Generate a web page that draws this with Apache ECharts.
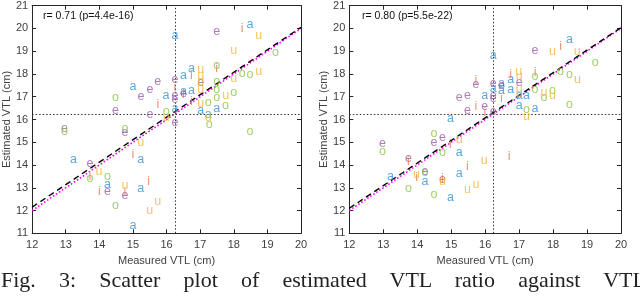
<!DOCTYPE html>
<html><head><meta charset="utf-8">
<script src="https://cdn.jsdelivr.net/npm/echarts@6/dist/echarts.min.js"></script>
<style>
html,body{margin:0;padding:0;width:640px;height:297px;overflow:hidden;background:#fff;}
#c{position:absolute;left:0;top:0;width:640px;height:297px;}
#cap{position:absolute;left:1px;top:269px;width:645px;font-family:"Liberation Serif","DejaVu Serif",serif;font-size:22px;line-height:22px;color:#222;text-align:justify;text-align-last:justify;white-space:nowrap;}
</style></head>
<body>
<div id="c"></div>
<div id="cap">Fig. 3: Scatter plot of estimated VTL ratio against VTL</div>
<script>
// ---- data ----
const vowels = ['a','e','i','o','u'];
const vowelColors = ['#2e91d6','#9a5aa8','#e5764f','#8cc443','#f4b53a'];
const xTicks = [12,13,14,15,16,17,18,19,20];
const yTicks = [11,12,13,14,15,16,17,18,19,20,21];
const annotations = ['r= 0.71 (p=4.4e-16)','r= 0.80 (p=5.5e-22)'];
const crossX = 16.25, crossY = 16.25;
const fitLeft = [[12,12.15],[20,20.05]];
const fitRight = [[12,12.1],[20,20.04]];
const identity = [[12,12],[20,20]];

const leftA = [[16.25,19.65],[18.48,20.13],[16.74,18.2],[16.5,17.87],[15.0,17.41],[15.98,17.03],[16.5,17.18],[16.74,17.23],[16.25,16.45],[17.02,16.35],[17.49,16.43],[17.24,16.17],[13.23,14.21],[15.23,14.21],[14.24,13.12],[15.23,12.94],[15.0,11.3]];
const leftE = [[17.49,19.82],[15.74,17.64],[16.25,17.7],[15.51,17.28],[15.24,16.97],[16.25,17.0],[16.25,16.82],[16.5,17.08],[17.02,17.58],[14.48,16.33],[15.51,16.17],[16.25,15.84],[12.96,15.58],[14.76,15.37],[13.72,14.0],[14.24,12.79],[14.76,12.62]];
const leftI = [[18.25,19.97],[17.49,18.2],[16.74,17.9],[16.25,17.35],[16.5,17.05],[16.74,16.74],[15.74,16.62],[15.0,14.41],[13.72,13.45],[15.47,13.24],[14.0,12.79],[14.76,12.75]];
const leftO = [[19.24,18.89],[17.49,18.33],[17.49,17.64],[18.25,17.98],[18.48,17.93],[17.49,17.29],[17.49,16.93],[18.0,17.13],[14.48,16.9],[15.99,16.29],[17.24,16.68],[17.75,16.55],[17.27,15.72],[12.96,15.42],[14.76,15.56],[18.48,15.42],[14.24,13.47],[13.72,13.35],[14.48,12.18]];
const leftU = [[18.74,19.65],[18.0,18.97],[18.74,18.05],[18.0,17.76],[17.02,18.15],[17.02,17.9],[17.02,17.62],[17.02,17.28],[17.76,17.03],[17.02,16.67],[15.99,16.06],[17.24,16.05],[15.23,14.93],[13.99,13.68],[14.76,13.06],[15.74,12.35],[15.5,11.96]];

const rightA = [[16.24,18.75],[18.48,19.47],[16.75,17.72],[16.48,17.54],[16.24,17.32],[16.48,17.25],[16.75,17.29],[15.99,16.99],[17.0,16.99],[17.22,16.99],[17.0,16.59],[17.47,16.45],[14.98,15.99],[15.24,14.49],[13.21,13.43],[14.23,13.24],[15.24,13.6],[14.98,12.51]];
const rightE = [[17.47,19.0],[15.73,17.5],[16.24,17.54],[16.48,17.44],[17.0,17.57],[15.48,17.03],[15.24,16.93],[16.24,17.03],[16.24,16.89],[15.99,16.52],[15.48,16.33],[16.24,16.31],[14.74,15.15],[12.98,14.9],[14.49,14.93],[13.74,14.26],[14.23,13.65],[14.74,13.32]];
const rightI = [[18.22,19.17],[16.75,17.95],[17.47,18.0],[15.73,17.68],[16.48,16.86],[15.73,16.52],[15.99,16.25],[14.98,14.85],[16.71,14.35],[15.48,13.91],[13.74,14.1],[13.98,13.4],[14.74,13.35]];
const rightO = [[19.24,18.44],[18.22,18.05],[18.48,17.93],[17.47,17.83],[17.47,17.29],[17.98,17.25],[17.73,16.93],[18.48,16.62],[17.22,16.38],[14.49,15.32],[14.74,14.5],[12.98,14.56],[14.23,13.62],[13.74,12.91],[14.49,12.66]];
const rightU = [[17.98,18.95],[18.71,18.92],[18.72,17.73],[16.99,18.05],[17.0,17.83],[17.0,17.32],[17.0,17.05],[17.73,17.13],[17.98,17.03],[17.22,16.09],[15.24,15.09],[15.97,14.16],[13.98,13.54],[14.74,13.25],[15.48,12.87],[15.73,13.1]];

const panels = [
  {pts:[leftA,leftE,leftI,leftO,leftU], fit: fitLeft},
  {pts:[rightA,rightE,rightI,rightO,rightU], fit: fitRight}
];

// ---- chart ----
const chart = echarts.init(document.getElementById('c'));
const FONT = '"Liberation Sans", Arial, sans-serif';
const grids = [
  {left:30, top:5.7, width:271, height:227.6},
  {left:349.3, top:5.7, width:271.7, height:227.6}
];
const xAxes = [], yAxes = [], series = [];
grids.forEach((g,gi)=>{
  const base = {
    min: xTicks[0], max: xTicks[xTicks.length-1], interval: 1,
    gridIndex: gi, splitLine:{show:false},
    axisLine:{show:true, onZero:false, lineStyle:{color:'#262626', width:1}},
    axisTick:{show:true, inside:true, length:4, lineStyle:{color:'#262626'}},
  };
  xAxes.push(Object.assign({}, base, {type:'value', position:'bottom',
    name:'Measured VTL (cm)', nameLocation:'middle', nameGap:19,
    nameTextStyle:{fontFamily:FONT, fontSize:11, color:'#404040'},
    axisLabel:{show:true, margin:6, fontFamily:FONT, fontSize:11, color:'#404040'}}));
  xAxes.push(Object.assign({}, base, {type:'value', position:'top', axisLabel:{show:false}}));
  const ybase = {
    min: yTicks[0], max: yTicks[yTicks.length-1], interval: 1,
    gridIndex: gi, splitLine:{show:false},
    axisLine:{show:true, onZero:false, lineStyle:{color:'#262626', width:1}},
    axisTick:{show:true, inside:true, length:4, lineStyle:{color:'#262626'}},
  };
  yAxes.push(Object.assign({}, ybase, {type:'value', position:'left',
    name:'Estimated VTL (cm)', nameLocation:'middle', nameGap:18,
    nameTextStyle:{fontFamily:FONT, fontSize:11, color:'#404040'},
    axisLabel:{show:true, margin:4, fontFamily:FONT, fontSize:11, color:'#404040'}}));
  yAxes.push(Object.assign({}, ybase, {type:'value', position:'right', axisLabel:{show:false}}));
});

panels.forEach((p,pi)=>{
  const xi = pi*2, yi = pi*2;
  // crosshair
  series.push({type:'line', xAxisIndex:xi, yAxisIndex:yi, data:[], silent:true,
    markLine:{silent:true, symbol:['none','none'], label:{show:false},
      lineStyle:{color:'#333', type:[1.5,2], width:1},
      data:[{xAxis:crossX},{yAxis:crossY}]}});
  // identity line (magenta dotted)
  series.push({type:'line', xAxisIndex:xi, yAxisIndex:yi, data:identity, symbol:'none', silent:true, z:3,
    lineStyle:{color:'#ff00ff', width:1.6, type:[1.6,2]}});
  // fit line (black dashed)
  series.push({type:'line', xAxisIndex:xi, yAxisIndex:yi, data:p.fit, symbol:'none', silent:true, z:4,
    lineStyle:{color:'#000', width:1.4, type:[6,4]}});
  // letters
  p.pts.forEach((arr,vi)=>{
    series.push({type:'scatter', xAxisIndex:xi, yAxisIndex:yi, data:arr, symbolSize:1, z:5,
      itemStyle:{color:'rgba(0,0,0,0)'},
      label:{show:true, position:'inside', formatter:vowels[vi], color:vowelColors[vi],
        fontFamily:FONT, fontSize:12.5, offset:[0,-1]}});
  });
});

chart.setOption({
  animation:false,
  grid: grids,
  xAxis: xAxes,
  yAxis: yAxes,
  series: series,
  graphic: [
    {type:'text', left:43, top:11, style:{text:annotations[0], font:'10.5px "Liberation Sans", Arial, sans-serif', fill:'#111'}},
    {type:'text', left:362, top:11, style:{text:annotations[1], font:'10.5px "Liberation Sans", Arial, sans-serif', fill:'#111'}}
  ]
});
</script>
</body></html>
